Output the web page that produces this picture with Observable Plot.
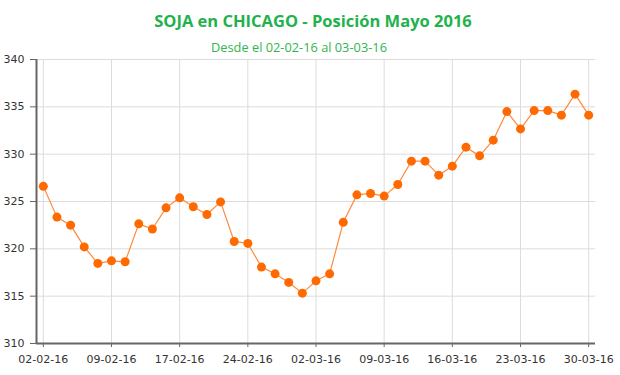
<!DOCTYPE html>
<html><head><meta charset="utf-8">
<script src="https://cdn.jsdelivr.net/npm/d3@7"></script>
<script src="https://cdn.jsdelivr.net/npm/@observablehq/plot@0.6"></script>
<style>
body{margin:0;background:#fff;width:620px;height:375px;overflow:hidden}
#head{position:relative;height:50px;font-family:"Open Sans",sans-serif;color:#22b24c}
#t{position:absolute;left:0;width:626px;text-align:center;top:11px;font-size:16.5px;font-weight:bold;line-height:20px}
#s{position:absolute;left:0;width:598px;text-align:center;top:39px;font-size:12.8px;line-height:16px;color:#33b44f}
</style></head><body>
<div id="head"><div id="t">SOJA en CHICAGO - Posición Mayo 2016</div><div id="s">Desde el 02-02-16 al 03-03-16</div></div>
<div id="chart"></div>
<script>
const prices = [326.6, 323.35, 322.5, 320.2, 318.46, 318.73, 318.63, 322.64, 322.1, 324.33,
  325.39, 324.44, 323.63, 324.96, 320.78, 320.57, 318.07, 317.36, 316.45, 315.32,
  316.62, 317.36, 322.8, 325.7, 325.85, 325.57, 326.8, 329.26, 329.26, 327.78,
  328.73, 330.74, 329.82, 331.48, 334.5, 332.67, 334.6, 334.6, 334.12, 336.34, 334.12];
const tickLabels = ["02-02-16","09-02-16","17-02-16","24-02-16","02-03-16","09-03-16","16-03-16","23-03-16","30-03-16"];
const tickIndex = [0,5,10,15,20,25,30,35,40];
const yTicks = [310,315,320,325,330,335,340];

const data = prices.map((v, i) => ({i, v}));
const grid = "#dcdcdc", axisCol = "#666";

const chart = Plot.plot({
  width: 620, height: 325,
  marginLeft: 36, marginRight: 25, marginTop: 9, marginBottom: 32,
  style: {fontFamily: "DejaVu Sans", fontSize: "11px", color: "#333", background: "#fff"},
  x: {type: "linear", domain: [-0.5, 40.5], axis: null},
  y: {domain: [310, 340], axis: null},
  marks: [
    Plot.ruleY(yTicks, {stroke: grid, strokeWidth: 1}),
    Plot.ruleX(tickIndex, {stroke: grid, strokeWidth: 1}),
    Plot.ruleX([-0.5], {stroke: axisCol, strokeWidth: 2}),
    Plot.ruleY([310], {stroke: axisCol, strokeWidth: 2}),
    Plot.axisY(yTicks, {label: null, tickSize: 6, tickPadding: 6, stroke: axisCol, fill: "#333", tickFormat: d => d}),
    Plot.axisX(tickIndex, {label: null, tickSize: 4, tickPadding: 8, stroke: axisCol, fill: "#333", tickFormat: (d, k) => tickLabels[k]}),
    Plot.line(data, {x: "i", y: "v", stroke: "#ff8a3d", strokeWidth: 1.2}),
    Plot.dot(data, {x: "i", y: "v", r: 4.5, fill: "#ff6a00", stroke: "none"})
  ]
});
document.getElementById("chart").append(chart);
</script>
</body></html>
